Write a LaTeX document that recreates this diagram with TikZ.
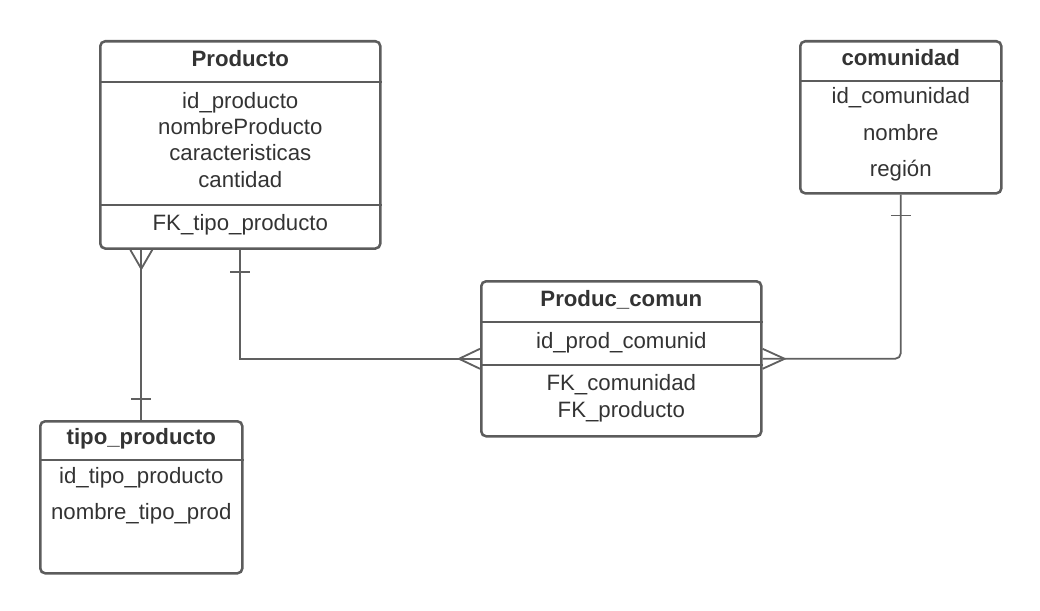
\documentclass[tikz,border=0pt]{standalone}
\usepackage{fontspec}
\setmainfont{Liberation Sans}
\usetikzlibrary{positioning, calc}
\definecolor{boxgray}{RGB}{92,92,92}
\definecolor{textgray}{RGB}{51,51,51}
\definecolor{linegray}{RGB}{96,96,96}

\begin{document}
\begin{tikzpicture}[x=0.025cm, y=-0.025cm,
    % Styles
    entity/.style={draw=boxgray, line width=1.8pt, rounded corners=3.5pt, inner sep=0, anchor=north west},
    entity title/.style={font=\fontsize{15.8}{19}\selectfont\bfseries, text=textgray, inner sep=0, text height=11.5pt, text depth=3.7pt},
    attr/.style={font=\fontsize{15.8}{19}\selectfont, text=textgray, inner sep=0, text height=11.5pt, text depth=3.7pt},
    divider/.style={draw=boxgray, line width=1.8pt},
    rel/.style={draw=linegray, line width=1.3pt},
]
    \useasboundingbox (0,0) rectangle (1040,611);

    % === Producto ===
    \node[entity, minimum width=7cm, minimum height=5.18cm] (prod) at (99,40) {};
    \draw[divider] ($(prod.north west)+(0,42)$) -- ($(prod.north east)+(0,42)$);
    \draw[divider] ($(prod.north west)+(0,165)$) -- ($(prod.north east)+(0,165)$);
    \node[entity title] (prod-title) at ($(prod.north)+(0,21)$) {Producto};
    \node[attr] (prod-id) at ($(prod.north)+(0,63)$) {id\_producto};
    \node[attr] (prod-nombre) at ($(prod.north)+(0,89)$) {nombreProducto};
    \node[attr] (prod-carac) at ($(prod.north)+(0,115.5)$) {caracteristicas};
    \node[attr] (prod-cant) at ($(prod.north)+(0,142)$) {cantidad};
    \node[attr] (prod-fk) at ($(prod.north)+(0,185.5)$) {FK\_tipo\_producto};

    % === comunidad ===
    \node[entity, minimum width=5.025cm, minimum height=3.8cm] (com) at (799,40) {};
    \draw[divider] ($(com.north west)+(0,41)$) -- ($(com.north east)+(0,41)$);
    \node[entity title] (com-title) at ($(com.north)+(0,20)$) {comunidad};
    \node[attr] (com-id) at ($(com.north)+(0,58)$) {id\_comunidad};
    \node[attr] (com-nombre) at ($(com.north)+(0,95.5)$) {nombre};
    \node[attr] (com-region) at ($(com.north)+(0,131.5)$) {región};

    % === Produc_comun ===
    \node[entity, minimum width=7cm, minimum height=3.875cm] (pc) at (480,280) {};
    \draw[divider] ($(pc.north west)+(0,42)$) -- ($(pc.north east)+(0,42)$);
    \draw[divider] ($(pc.north west)+(0,85)$) -- ($(pc.north east)+(0,85)$);
    \node[entity title] (pc-title) at ($(pc.north)+(0,21)$) {Produc\_comun};
    \node[attr] (pc-id) at ($(pc.north)+(0,63)$) {id\_prod\_comunid};
    \node[attr] (pc-fkcom) at ($(pc.north)+(0,105.5)$) {FK\_comunidad};
    \node[attr] (pc-fkprod) at ($(pc.north)+(0,132.5)$) {FK\_producto};

    % === tipo_producto ===
    \node[entity, minimum width=5.05cm, minimum height=3.8cm] (tipo) at (39,420) {};
    \draw[divider] ($(tipo.north west)+(0,40)$) -- ($(tipo.north east)+(0,40)$);
    \node[entity title] (tipo-title) at ($(tipo.north)+(0,19)$) {tipo\_producto};
    \node[attr] (tipo-id) at ($(tipo.north)+(0,58)$) {id\_tipo\_producto};
    \node[attr] (tipo-nombre) at ($(tipo.north)+(0,94)$) {nombre\_tipo\_prod};

    % === Relations ===
    % Producto (many) -- tipo_producto (one)
    \coordinate (prod-foot) at (tipo.north |- prod.south);
    \draw[rel] (prod-foot) -- (tipo.north);
    \draw[rel] ($(prod-foot)+(-11,0)$) -- ($(prod-foot)+(0,19)$) -- ($(prod-foot)+(11,0)$);
    \draw[rel] ($(tipo.north)+(-10,-21)$) -- ($(tipo.north)+(10,-21)$);

    % Producto (one) -- Produc_comun (many)
    \draw[rel] (prod.south) |- (pc.west);
    \draw[rel] ($(prod.south)+(-10,22)$) -- ($(prod.south)+(10,22)$);
    \draw[rel] ($(pc.west)+(0,-10)$) -- ($(pc.west)+(-21,0)$) -- ($(pc.west)+(0,10)$);

    % comunidad (one) -- Produc_comun (many)
    \draw[rel, rounded corners=4pt] (com.south) |- (pc.east);
    \draw[rel] ($(com.south)+(-10,21)$) -- ($(com.south)+(10,21)$);
    \draw[rel] ($(pc.east)+(0,-10)$) -- ($(pc.east)+(22,0)$) -- ($(pc.east)+(0,10)$);
\end{tikzpicture}
\end{document}
